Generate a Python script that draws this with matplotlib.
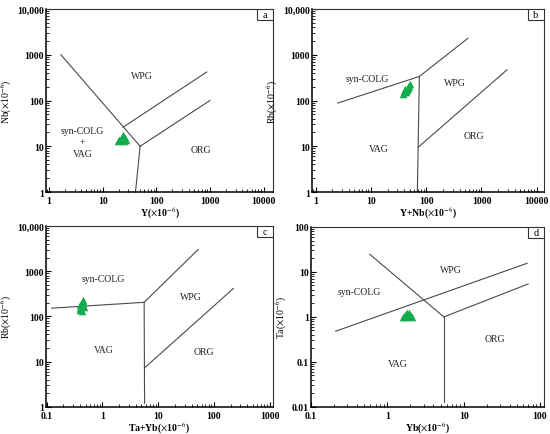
import matplotlib
matplotlib.use('Agg')
import matplotlib.pyplot as plt
from matplotlib.patches import Rectangle

plt.rcParams['font.family'] = ['Liberation Serif', 'DejaVu Serif']
plt.rcParams['mathtext.fontset'] = 'stix'

# 样品数据
a_y = [19.5, 21.0, 22.5, 23.5, 24.5, 25.5, 26.5, 27.5, 22.0, 25.0, 24.0, 20.5]
a_nb = [13.2, 14.0, 15.6, 16.8, 14.5, 16.0, 15.2, 13.8, 13.5, 13.3, 17.2, 13.6]

b_ynb = [38, 40, 42, 44, 46, 48, 50, 41, 45, 43, 47, 39]
b_rb = [140, 150, 165, 180, 195, 210, 225, 175, 170, 155, 190, 160]

c_tayb = [0.39, 0.40, 0.41, 0.42, 0.43, 0.44, 0.45, 0.46, 0.42, 0.44, 0.40, 0.43]
c_rb = [140, 155, 170, 185, 200, 215, 190, 160, 145, 225, 175, 135]

d_yb = [1.60, 1.70, 1.75, 1.80, 1.85, 1.90, 1.95, 2.00, 2.05, 2.10, 1.78, 1.92]
d_ta = [1.02, 1.08, 1.15, 1.20, 1.12, 1.05, 1.18, 1.10, 1.03, 1.00, 1.00, 1.22]

# 判别图边界线
a_lines = [([1.67, 50], [1000, 10]),
           ([50, 1000], [10, 100]),
           ([24, 870], [26, 420]),
           ([50, 41], [10, 1])]
b_lines = [([2.5, 75, 565], [88, 335, 2280]),
           ([75, 69], [335, 1]),
           ([71.3, 2900], [9.5, 470])]
c_lines = [([0.123, 5.6, 52], [152, 205, 3000]),
           ([5.6, 5.7], [205, 1.2]),
           ([5.65, 224], [7.2, 415])]
d_lines = [([0.59, 5.5], [24.6, 1.0]),
           ([5.5, 5.5], [1.0, 0.013]),
           ([5.5, 70], [1.0, 5.4]),
           ([0.21, 68], [0.48, 15.6])]

# 区域标注
a_text = [('WPG', 55, 360), ('syn-COLG\n+\nVAG', 4.2, 12.4), ('ORG', 690, 8.4)]
b_text = [('syn-COLG', 8.7, 310), ('WPG', 330, 250), ('ORG', 740, 17), ('VAG', 13.8, 9)]
c_text = [('syn-COLG', 1.03, 680), ('WPG', 38, 280), ('VAG', 1.07, 18.5), ('ORG', 66, 16.5)]
d_text = [('syn-COLG', 0.43, 3.7), ('WPG', 6.8, 11.3), ('ORG', 26, 0.33), ('VAG', 1.39, 0.091)]

fig = plt.figure(figsize=(5.5, 4.35), dpi=100)


def make_panel(rect, xlim, ylim, xt, xtl, yt, ytl, xlabel, ylabel, lines, texts, xs, ys, tag):
    ax = fig.add_axes(rect)
    ax.set_xscale('log')
    ax.set_yscale('log')
    ax.set_xlim(*xlim)
    ax.set_ylim(*ylim)
    for lx, ly in lines:
        ax.plot(lx, ly, color='#4a4a4a', lw=0.8)
    for s, tx, ty in texts:
        ax.text(tx, ty, s, ha='center', va='center', fontsize=7, color='#222222', linespacing=1.3)
    ax.scatter(xs, ys, marker='^', s=30, color='#14ad4b', edgecolors='#14ad4b', lw=0, zorder=3)
    ax.set_xticks(xt)
    ax.set_xticklabels(xtl)
    ax.set_yticks(yt)
    ax.set_yticklabels(ytl)
    ax.tick_params(which='both', direction='in', top=False, right=False, labelsize=7, colors='black')
    ax.tick_params(axis='x', pad=3.2)
    ax.tick_params(axis='y', pad=1.5)
    ax.tick_params(which='major', length=3.5, width=0.8)
    ax.tick_params(which='minor', length=2, width=0.6)
    for lab in ax.get_xticklabels() + ax.get_yticklabels():
        lab.set_fontweight('bold')
    ax.spines['left'].set_linewidth(1.1)
    ax.spines['bottom'].set_linewidth(1.1)
    for s in ['top', 'right']:
        ax.spines[s].set_linewidth(0.8)
        ax.spines[s].set_color('#333333')
    ax.set_xlabel(xlabel, fontsize=7, fontweight='bold', labelpad=-0.5)
    ax.set_ylabel(ylabel, fontsize=7, labelpad=2)
    ax.add_patch(Rectangle((0.93, 0.94), 0.07, 0.06, transform=ax.transAxes,
                           facecolor='white', edgecolor='#333333', lw=0.8, zorder=4))
    ax.text(0.965, 0.97, tag, transform=ax.transAxes, ha='center', va='center', fontsize=7.5, zorder=5)
    return ax


unit = r'($\times$10$^{-6}$)'

make_panel([0.0836, 0.5563, 0.4128, 0.4207], (0.88, 15000), (1, 10000),
           [1, 10, 100, 1000, 10000], ['1', '10', '100', '1000', '10000'],
           [1, 10, 100, 1000, 10000], ['1', '10', '100', '1000', '10,000'],
           'Y' + unit, 'Nb' + unit, a_lines, a_text, a_y, a_nb, 'a')

make_panel([0.567, 0.5563, 0.422, 0.4207], (0.85, 13500), (1, 10000),
           [1, 10, 100, 1000, 10000], ['1', '10', '100', '1000', '10000'],
           [1, 10, 100, 1000, 10000], ['1', '10', '100', '1000', '10,000'],
           'Y+Nb' + unit, 'Rb' + unit, b_lines, b_text, b_ynb, b_rb, 'b')

make_panel([0.0836, 0.0625, 0.4128, 0.4157], (0.097, 1150), (1, 10000),
           [0.1, 1, 10, 100, 1000], ['0.1', '1', '10', '100', '1000'],
           [1, 10, 100, 1000, 10000], ['1', '10', '100', '1000', '10,000'],
           'Ta+Yb' + unit, 'Rb' + unit, c_lines, c_text, c_tayb, c_rb, 'c')

make_panel([0.5655, 0.0625, 0.4236, 0.4134], (0.1, 113), (0.01, 100),
           [0.1, 1, 10, 100], ['0.1', '1', '10', '100'],
           [0.01, 0.1, 1, 10, 100], ['0.01', '0.1', '1', '10', '100'],
           'Yb' + unit, 'Ta' + unit, d_lines, d_text, d_yb, d_ta, 'd')

fig.savefig('out.png', dpi=100)
